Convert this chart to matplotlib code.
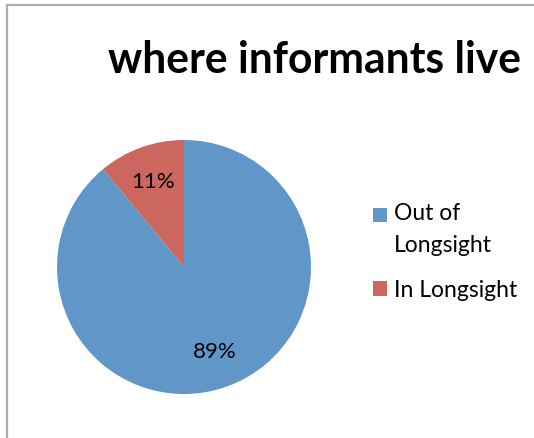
import matplotlib.pyplot as plt
from matplotlib.lines import Line2D
from matplotlib.patches import Rectangle
from matplotlib.legend_handler import HandlerPatch

# where the informants live
labels = ["Out of\nLongsight", "In Longsight"]
shares = [89, 11]
colors = ["#6196c9", "#cc6760"]
title = "where informants live"

LINESPACING = 1.62
LINE_PITCH = 0.81 * LINESPACING  # distance between label lines, in font sizes


def square_handle(lines_up):
    # legend square sitting next to the first line of a wrapped label
    def make(legend, orig_handle, xdescent, ydescent, width, height, fontsize):
        shift = 0.5 * LINE_PITCH * fontsize * lines_up
        return Rectangle((-xdescent, -ydescent + shift), width, height)
    return make


def main():
    plt.rcParams["font.family"] = ["Lato", "DejaVu Sans"]

    fig = plt.figure(figsize=(5.34, 4.38), dpi=100)
    W, H = 534, 438

    # chart area border (top and left edges only)
    fig.add_artist(Line2D([7 / W, 7 / W], [0, 1 - 5 / H], color="#adadad",
                          lw=1.6, transform=fig.transFigure))
    fig.add_artist(Line2D([7 / W, 1], [1 - 5 / H, 1 - 5 / H], color="#adadad",
                          lw=1.6, transform=fig.transFigure))

    fig.text(108 / W, 1 - 73 / H, title, ha="left", va="baseline",
             fontsize=30.7, fontweight="bold", color="black")

    ax = fig.add_axes([57 / W, 1 - 394 / H, 254 / W, 254 / H])
    wedges, texts, autotexts = ax.pie(
        shares, colors=colors, startangle=90, counterclock=False,
        autopct="%d%%", pctdistance=0.71,
        wedgeprops=dict(linewidth=0),
        textprops=dict(fontsize=16, color="black"))
    ax.set_xlim(-1, 1)
    ax.set_ylim(-1, 1)
    ax.set_aspect("equal")

    handler_map = {w: HandlerPatch(patch_func=square_handle(lab.count("\n")))
                   for w, lab in zip(wedges, labels)}
    leg = fig.legend(wedges, labels, loc="center left",
                     bbox_to_anchor=(373 / W, 1 - 252 / H), frameon=False,
                     fontsize=16.5, handlelength=0.6, handleheight=0.6,
                     handletextpad=0.3, labelspacing=1.05, borderpad=0,
                     borderaxespad=0, handler_map=handler_map)
    for t in leg.get_texts():
        t.set_linespacing(LINESPACING)

    fig.savefig("out.png", dpi=100)


if __name__ == "__main__":
    main()
